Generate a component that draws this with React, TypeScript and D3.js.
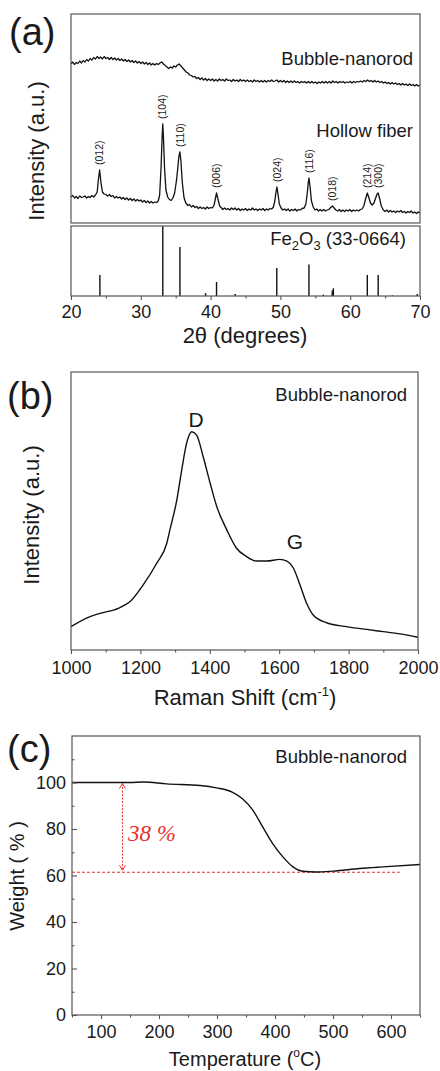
import React, { useRef, useEffect } from 'react';
import * as d3 from 'd3';

const FONT = 'Liberation Sans, Arial, sans-serif';
const INK = '#1a1a1a';
const FRAME = '#555';
const RED = '#e8302c';

// (a) XRD, 2theta vs intensity (a.u.)
const bubbleXrd: [number, number][] = [
  [20, 159], [20.25, 161], [20.5, 158.5], [20.75, 160.5], [21, 159.5], [21.25, 162], [21.5, 160], [21.75, 162.5],
  [22, 161], [22.25, 163.5], [22.5, 162], [22.75, 164.5], [23, 163], [23.25, 165.5], [23.5, 164], [23.75, 166.5],
  [24, 164.5], [24.25, 166], [24.5, 164], [24.75, 166.5], [25, 164.5], [25.25, 165.5], [25.5, 163.5], [25.75, 165.5],
  [26, 163.5], [26.25, 165], [26.5, 163], [26.75, 164.5], [27, 162.5], [27.25, 164], [27.5, 162], [27.75, 163.5],
  [28, 161.5], [28.25, 163], [28.5, 161], [28.75, 162.5], [29, 160.5], [29.25, 162], [29.5, 160], [29.75, 161.5],
  [30, 159.5], [30.25, 161], [30.5, 159], [30.75, 160.5], [31, 158.5], [31.25, 160], [31.5, 158], [31.75, 159.5],
  [32, 158], [32.25, 159.5], [32.5, 158.5], [32.75, 160], [33, 161], [33.25, 159], [33.5, 157.5], [33.75, 156],
  [34, 154.5], [34.25, 156], [34.5, 155], [34.75, 157], [35, 156], [35.25, 158], [35.5, 159], [35.75, 157],
  [36, 155], [36.25, 153], [36.5, 151], [36.75, 150], [37, 148], [37.25, 147.5], [37.5, 146], [37.75, 146.5],
  [38, 144.5], [38.25, 145.5], [38.5, 143.5], [38.75, 145], [39, 143], [39.25, 144.5], [39.5, 142.5], [39.75, 144],
  [40, 142.5], [40.25, 144], [40.5, 142], [40.75, 143.5], [41, 142], [41.25, 144], [41.5, 142.5], [41.75, 143.5],
  [42, 142], [42.25, 144], [42.5, 142.5], [42.75, 143], [43, 141.5], [43.25, 143.5], [43.5, 142], [43.75, 143],
  [44, 141.5], [44.25, 143.5], [44.5, 142], [44.75, 143], [45, 141.5], [45.25, 143], [45.5, 141.5], [45.75, 142.5],
  [46, 141], [46.25, 143], [46.5, 141.5], [46.75, 142.5], [47, 141], [47.25, 142.5], [47.5, 141], [47.75, 142.5],
  [48, 141], [48.25, 142.5], [48.5, 141.5], [48.75, 143], [49, 141.5], [49.25, 142], [49.5, 143], [49.75, 141],
  [50, 142.5], [50.25, 141], [50.5, 142.5], [50.75, 140.5], [51, 142], [51.25, 140.5], [51.5, 142], [51.75, 140.5],
  [52, 142], [52.25, 140.5], [52.5, 141.5], [52.75, 140], [53, 141.5], [53.25, 140.5], [53.5, 141.5], [53.75, 140],
  [54, 141.5], [54.25, 140], [54.5, 141.5], [54.75, 140], [55, 141], [55.25, 139.5], [55.5, 141], [55.75, 140],
  [56, 141.5], [56.25, 140], [56.5, 141.5], [56.75, 140], [57, 141.5], [57.25, 140], [57.5, 142], [57.75, 140.5],
  [58, 141.5], [58.25, 140], [58.5, 141.5], [58.75, 140.5], [59, 141.5], [59.25, 140], [59.5, 141], [59.75, 140.5],
  [60, 141.5], [60.25, 140], [60.5, 141.5], [60.75, 140.5], [61, 141.5], [61.25, 141], [61.5, 142], [61.75, 141],
  [62, 142.5], [62.25, 141.5], [62.5, 143], [62.75, 141.5], [63, 142.5], [63.25, 141], [63.5, 142.5], [63.75, 141],
  [64, 142], [64.25, 140.5], [64.5, 141.5], [64.75, 140], [65, 141], [65.25, 139.5], [65.5, 140.5], [65.75, 139],
  [66, 140.5], [66.25, 139], [66.5, 140], [66.75, 138.5], [67, 139.5], [67.25, 138], [67.5, 139.5], [67.75, 138],
  [68, 139], [68.25, 137.5], [68.5, 139], [68.75, 137.5], [69, 138.5], [69.25, 137], [69.5, 138.5], [69.75, 137],
  [70, 138],
];

const hollowXrd: [number, number][] = [
  [20, 26], [20.25, 27.5], [20.5, 25], [20.75, 26.5], [21, 24.5], [21.25, 27], [21.5, 25.5], [21.75, 26],
  [22, 27], [22.25, 25], [22.5, 26.5], [22.75, 25.5], [23, 27.5], [23.25, 26], [23.5, 28], [23.75, 31],
  [23.9, 42], [24.1, 53], [24.3, 40], [24.5, 31], [24.75, 29], [25, 28.5], [25.25, 27], [25.5, 28.5],
  [25.75, 26.5], [26, 27.5], [26.25, 25], [26.5, 26.5], [26.75, 25], [27, 26], [27.25, 24], [27.5, 25.5],
  [27.75, 23.5], [28, 25], [28.25, 23], [28.5, 24.5], [28.75, 22.5], [29, 24], [29.25, 22], [29.5, 23.5],
  [29.75, 22], [30, 23], [30.25, 21], [30.5, 22.5], [30.75, 20.5], [31, 22], [31.25, 20], [31.5, 21.5],
  [31.75, 20], [32, 21], [32.25, 20.5], [32.5, 22], [32.7, 28], [32.9, 55], [33.05, 85], [33.15, 99],
  [33.25, 85], [33.4, 55], [33.6, 33], [33.85, 26], [34.1, 23.5], [34.35, 22.5], [34.6, 25], [34.85, 30],
  [35.1, 42], [35.3, 55], [35.45, 66], [35.6, 71], [35.75, 62], [35.95, 40], [36.2, 25], [36.45, 20],
  [36.75, 17.5], [37, 18.5], [37.25, 16], [37.5, 17.5], [37.75, 15.5], [38, 16.5], [38.25, 14.5], [38.5, 16],
  [38.75, 14.5], [39, 15.5], [39.25, 14], [39.5, 16], [39.75, 14.5], [40, 15.5], [40.25, 15], [40.5, 18],
  [40.7, 25], [40.85, 30], [41.05, 24], [41.3, 17], [41.5, 15.5], [41.75, 13.5], [42, 15], [42.25, 13.5],
  [42.5, 14.5], [42.75, 13], [43, 15], [43.25, 13.5], [43.5, 15], [43.75, 13], [44, 14.5], [44.25, 12.5],
  [44.5, 14], [44.75, 13], [45, 14.5], [45.25, 12.5], [45.5, 14], [45.75, 13], [46, 15], [46.25, 13],
  [46.5, 14], [46.75, 12.5], [47, 14], [47.25, 13], [47.5, 14.5], [47.75, 12.5], [48, 14], [48.25, 13],
  [48.5, 14.5], [48.75, 14], [49, 16], [49.2, 22], [49.35, 30], [49.5, 36], [49.65, 29], [49.85, 19],
  [50.1, 15], [50.35, 13], [50.6, 14], [50.85, 12.5], [51.1, 14], [51.35, 12], [51.6, 13.5], [51.85, 12.5],
  [52.1, 14], [52.35, 12], [52.6, 13.5], [52.85, 13], [53.1, 14.5], [53.4, 15], [53.65, 19], [53.85, 30],
  [54.0, 41], [54.1, 45], [54.25, 36], [54.45, 22], [54.7, 16], [54.95, 13], [55.2, 14], [55.45, 12],
  [55.7, 13.5], [55.95, 12], [56.2, 13.5], [56.45, 12], [56.7, 13], [56.95, 13.5], [57.2, 15.5], [57.45, 17],
  [57.7, 15], [57.95, 13], [58.2, 12], [58.45, 13.5], [58.7, 11.5], [58.95, 13], [59.2, 11.5], [59.45, 13],
  [59.7, 12], [59.95, 13.5], [60.2, 11.5], [60.45, 13], [60.7, 12], [60.95, 13], [61.2, 12], [61.45, 13.5],
  [61.7, 14], [61.95, 17], [62.2, 24], [62.45, 30], [62.65, 26], [62.9, 20], [63.15, 18], [63.4, 20],
  [63.65, 25], [63.85, 29], [64.0, 30], [64.2, 25], [64.45, 17], [64.75, 13], [65, 11.5], [65.25, 13],
  [65.5, 11], [65.75, 12.5], [66, 11], [66.25, 12], [66.5, 10.5], [66.75, 12], [67, 11], [67.25, 12.5],
  [67.5, 10.5], [67.75, 11.5], [68, 10], [68.25, 11.5], [68.5, 10.5], [68.75, 12], [69, 10], [69.25, 11],
  [69.5, 9.5], [69.75, 11], [70, 10],
];

// JCPDS 33-0664 reference lines, relative intensity %
const fe2o3Card: [number, number][] = [
  [24.14, 30], [33.15, 100], [35.61, 70], [39.28, 4], [40.85, 20], [43.52, 3], [49.48, 40],
  [54.09, 45], [56.15, 2], [57.43, 8], [57.59, 11], [62.45, 30], [64.01, 30], [66.03, 1], [69.6, 3],
];

const peakLabels = ['(012)', '(104)', '(110)', '(006)', '(024)', '(116)', '(018)', '(214)', '(300)'];
const peakPos = [24.1, 33.15, 35.6, 40.85, 49.5, 54.1, 57.45, 62.45, 64.0];
const xrdTicks = [20, 30, 40, 50, 60, 70];

// (b) Raman
const ramanData: [number, number][] = [
  [1000, 8.4], [1055, 12.0], [1084, 13.2], [1136, 15.0], [1175, 18.0], [1208, 23.4], [1247, 31.2],
  [1276, 38.4], [1285, 43.2], [1305, 54], [1319, 64.7], [1333, 74.3], [1348, 78.5], [1362, 77.3],
  [1381, 69.5], [1401, 60], [1420, 51.6], [1449, 43.2], [1477, 36.6], [1506, 33.6], [1535, 32.0],
  [1564, 32.0], [1602, 32.6], [1622, 32.0], [1641, 29.4], [1660, 23.4], [1679, 16.8], [1698, 12.6],
  [1737, 9.8], [1794, 8.4], [1852, 7.4], [1900, 6.6], [1948, 5.8], [2000, 4.6],
];
const ramanTicks = [1000, 1200, 1400, 1600, 1800, 2000];

// (c) TGA
const tgaData: [number, number][] = [
  [50, 100], [100, 100], [150, 100], [173, 100.2], [213, 99.4], [271, 98.7], [299, 97.7], [327, 95.8],
  [344, 93], [362, 88], [379, 80.8], [396, 73.7], [414, 67.9], [431, 63.7], [448, 61.8], [471, 61.5],
  [500, 61.9], [546, 63], [586, 63.7], [650, 64.7],
];
const tgaXTicks = [100, 200, 300, 400, 500, 600];
const tgaYTicks = [0, 20, 40, 60, 80, 100];
const lossLevel = 61.4;
const lossFrom = 100;
const lossText = '38 %';
const lossAt = 137;
const lossLineEnd = 615;

function styleAxis(g: any, fontSize: number) {
  g.select('.domain').remove();
  g.selectAll('line').attr('stroke', FRAME).attr('stroke-width', 1.1);
  g.selectAll('text').attr('font-family', FONT).attr('font-size', fontSize).attr('fill', INK);
}

function bottomAxis(svg: any, scale: any, y: number, major: number[], step: number, pad: number) {
  const [d0, d1] = scale.domain();
  const minor = d3.range(d0, d1 + 0.001, step).filter((v) => !major.includes(v));
  const gm = svg.append('g').attr('transform', `translate(0,${y})`)
    .call(d3.axisBottom(scale).tickValues(minor).tickSize(2.5).tickFormat(() => ''));
  styleAxis(gm, 10);
  const g = svg.append('g').attr('transform', `translate(0,${y})`)
    .call(d3.axisBottom(scale).tickValues(major).tickSize(4).tickPadding(pad).tickFormat(d3.format('d')));
  styleAxis(g, 18);
}

function frame(svg: any, x0: number, y0: number, x1: number, y1: number) {
  svg.append('rect').attr('x', x0).attr('y', y0).attr('width', x1 - x0).attr('height', y1 - y0)
    .attr('fill', 'none').attr('stroke', FRAME).attr('stroke-width', 1.2);
}

function label(svg: any, text: string, x: number, y: number, size: number, anchor = 'end') {
  return svg.append('text').attr('x', x).attr('y', y).attr('text-anchor', anchor)
    .attr('font-family', FONT).attr('font-size', size).attr('fill', INK).text(text);
}

function vLabel(svg: any, text: string, x: number, y: number, size: number) {
  return svg.append('text').attr('transform', `translate(${x},${y}) rotate(-90)`).attr('text-anchor', 'middle')
    .attr('font-family', FONT).attr('font-size', size).attr('fill', INK).text(text);
}

function Figure() {
  const svgRef = useRef(null);

  useEffect(() => {
    const svg = d3.select(svgRef.current);
    svg.selectAll('*').remove();

    // ---------- (a) ----------
    const aL = 71, aR = 420, aTop = 14, aMid = 223, aRefTop = 226, aBot = 296;
    const xA = d3.scaleLinear().domain([20, 70]).range([aL, aR]);
    const yA = d3.scaleLinear().domain([0, 209]).range([aMid, aTop]);
    const yRef = d3.scaleLinear().domain([0, 100]).range([aBot, aRefTop]);
    const lineA = d3.line<[number, number]>().x((d) => xA(d[0])).y((d) => yA(d[1]));

    [bubbleXrd, hollowXrd].forEach((s) => {
      svg.append('path').attr('d', lineA(s)).attr('fill', 'none').attr('stroke', '#111')
        .attr('stroke-width', 1.3).attr('stroke-linejoin', 'round');
    });

    peakLabels.forEach((hkl, i) => {
      const p = peakPos[i];
      const top = d3.max(hollowXrd.filter((d) => Math.abs(d[0] - p) < 0.3), (d) => d[1]) as number;
      svg.append('text')
        .attr('transform', `translate(${xA(p) + 3.7},${yA(top) - 5}) rotate(-90)`)
        .attr('font-family', FONT).attr('font-size', 10.5).attr('fill', INK).text(hkl);
    });

    fe2o3Card.forEach(([tt, inten]) => {
      svg.append('line').attr('x1', xA(tt)).attr('x2', xA(tt)).attr('y1', yRef(0)).attr('y2', yRef(inten))
        .attr('stroke', '#111').attr('stroke-width', 1.4);
    });

    frame(svg, aL, aTop, aR, aMid);
    frame(svg, aL, aRefTop, aR, aBot);
    bottomAxis(svg, xA, aBot, xrdTicks, 5, 5);

    label(svg, 'Bubble-nanorod', 413, 65, 18.5);
    label(svg, 'Hollow fiber', 413, 137, 18.5);
    const fe = label(svg, '', 406, 245, 18.5);
    fe.append('tspan').text('Fe');
    fe.append('tspan').attr('font-size', 13).attr('dy', 5).text('2');
    fe.append('tspan').attr('dy', -5).text('O');
    fe.append('tspan').attr('font-size', 13).attr('dy', 5).text('3');
    fe.append('tspan').attr('dy', -5).text(' (33-0664)');

    label(svg, '(a)', 9, 45, 38, 'start');
    vLabel(svg, 'Intensity (a.u.)', 44, 151, 22);
    label(svg, '2\u03b8 (degrees)', 245, 343, 22, 'middle');

    // ---------- (b) ----------
    const bL = 71, bR = 418, bTop = 372, bBot = 650;
    const xB = d3.scaleLinear().domain([1000, 2000]).range([bL, bR]);
    const yB = d3.scaleLinear().domain([0, 100]).range([bBot, bTop]);
    const lineB = d3.line<[number, number]>().x((d) => xB(d[0])).y((d) => yB(d[1])).curve(d3.curveMonotoneX);
    svg.append('path').attr('d', lineB(ramanData)).attr('fill', 'none').attr('stroke', '#111').attr('stroke-width', 1.4);
    frame(svg, bL, bTop, bR, bBot);
    bottomAxis(svg, xB, bBot, ramanTicks, 100, 7);

    label(svg, 'Bubble-nanorod', 407, 401, 18.5);
    label(svg, 'D', 196, 427, 21, 'middle');
    label(svg, 'G', 295, 549, 21, 'middle');
    label(svg, '(b)', 7, 409, 38, 'start');
    vLabel(svg, 'Intensity (a.u.)', 39, 515, 22);
    const rs = label(svg, '', 245, 705, 22, 'middle');
    rs.append('tspan').text('Raman Shift (cm');
    rs.append('tspan').attr('font-size', 13).attr('dy', -9).text('-1');
    rs.append('tspan').attr('dy', 9).text(')');

    // ---------- (c) ----------
    const cL = 72, cR = 420, cTop = 736, cBot = 1015;
    const xC = d3.scaleLinear().domain([50, 650]).range([cL, cR]);
    const yC = d3.scaleLinear().domain([0, 120]).range([cBot, cTop]);
    const lineC = d3.line<[number, number]>().x((d) => xC(d[0])).y((d) => yC(d[1])).curve(d3.curveMonotoneX);

    // loss annotation
    svg.append('line').attr('x1', xC(50)).attr('x2', xC(lossLineEnd)).attr('y1', yC(lossLevel)).attr('y2', yC(lossLevel))
      .attr('stroke', RED).attr('stroke-width', 1).attr('stroke-dasharray', '3,2');
    const ax = xC(lossAt);
    const ay0 = yC(lossFrom) + 1;
    const ay1 = yC(lossLevel) - 2;
    svg.append('line').attr('x1', ax).attr('x2', ax).attr('y1', ay0).attr('y2', ay1)
      .attr('stroke', RED).attr('stroke-width', 1).attr('stroke-dasharray', '2,1.5');
    svg.append('path').attr('d', `M${ax - 3},${ay0 + 5}L${ax},${ay0}L${ax + 3},${ay0 + 5}`)
      .attr('fill', 'none').attr('stroke', RED).attr('stroke-width', 1);
    svg.append('path').attr('d', `M${ax - 3},${ay1 - 5}L${ax},${ay1}L${ax + 3},${ay1 - 5}`)
      .attr('fill', 'none').attr('stroke', RED).attr('stroke-width', 1);
    svg.append('text').attr('x', ax + 5.5).attr('y', yC((lossFrom + lossLevel) / 2) + 14)
      .attr('font-family', 'Liberation Serif, Times New Roman, serif').attr('font-style', 'italic')
      .attr('font-size', 23).attr('fill', RED).text(lossText);

    svg.append('path').attr('d', lineC(tgaData)).attr('fill', 'none').attr('stroke', '#111').attr('stroke-width', 1.4);
    frame(svg, cL, cTop, cR, cBot);
    bottomAxis(svg, xC, cBot, tgaXTicks, 50, 6);

    const yMinor = d3.range(10, 120, 20);
    const gym = svg.append('g').attr('transform', `translate(${cL},0)`)
      .call(d3.axisLeft(yC).tickValues(yMinor).tickSize(-2.5).tickFormat(() => ''));
    styleAxis(gym, 10);
    const gy = svg.append('g').attr('transform', `translate(${cL},0)`)
      .call(d3.axisLeft(yC).tickValues(tgaYTicks).tickSize(-5).tickPadding(6).tickFormat(d3.format('d')));
    styleAxis(gy, 18);

    label(svg, 'Bubble-nanorod', 407, 763, 18.5);
    label(svg, '(c)', 7, 762, 38, 'start');
    vLabel(svg, 'Weight ( % )', 24, 876, 20);
    const tt = label(svg, '', 245, 1066, 20, 'middle');
    tt.append('tspan').text('Temperature (');
    tt.append('tspan').attr('font-size', 12).attr('dy', -9).text('o');
    tt.append('tspan').attr('dy', 9).text('C)');
  }, []);

  return (
    <svg
      ref={svgRef}
      width={440}
      height={1071}
      style={{ position: 'absolute', left: 0, top: 0, background: '#fff' }}
    />
  );
}

export default function App() {
  return <Figure />;
}
